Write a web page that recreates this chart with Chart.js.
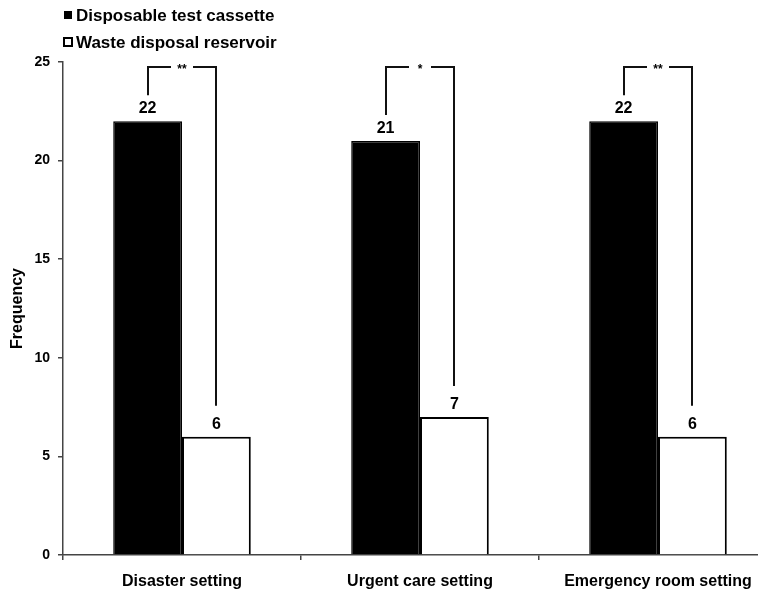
<!DOCTYPE html>
<html>
<head>
<meta charset="utf-8">
<script src="https://cdn.jsdelivr.net/npm/chart.js@4/dist/chart.umd.min.js"></script>
<style>
html,body{margin:0;padding:0;background:#fff;overflow:hidden;}
#wrap{position:relative;width:790px;height:593px;}
</style>
</head>
<body>
<div id="wrap"><canvas id="c" width="790" height="593"></canvas></div>
<script>
const categories = ['Disaster setting', 'Urgent care setting', 'Emergency room setting'];
const cassette = [22, 21, 22];
const reservoir = [6, 7, 6];
const significance = ['**', '*', '**'];
const seriesNames = ['Disposable test cassette', 'Waste disposal reservoir'];
const yTicks = [0, 5, 10, 15, 20, 25];

const FONT = "'Liberation Sans', Arial, sans-serif";

const customDraw = {
  id: 'customDraw',
  afterDatasetsDraw(chart) {
    const ctx = chart.ctx;
    const m0 = chart.getDatasetMeta(0), m1 = chart.getDatasetMeta(1);
    ctx.save();
    // value labels
    ctx.fillStyle = '#000';
    ctx.font = 'bold 16px ' + FONT;
    ctx.textAlign = 'center';
    ctx.textBaseline = 'alphabetic';
    [m0, m1].forEach((m, di) => {
      const vals = di === 0 ? cassette : reservoir;
      m.data.forEach((bar, i) => {
        ctx.fillText(String(vals[i]), bar.x, bar.y - 8);
      });
    });
    // significance brackets
    const topY = chart.chartArea.top + 5;
    ctx.strokeStyle = '#111';
    ctx.lineWidth = 2;
    m0.data.forEach((b0, i) => {
      const b1 = m1.data[i];
      const lx = Math.round(b0.x), rx = Math.round(b1.x);
      const mid = (lx + rx) / 2;
      const gap = 11;
      ctx.beginPath();
      ctx.moveTo(lx, b0.y - 26);
      ctx.lineTo(lx, topY);
      ctx.lineTo(mid - gap, topY);
      ctx.moveTo(mid + gap, topY);
      ctx.lineTo(rx, topY);
      ctx.lineTo(rx, b1.y - 31);
      ctx.stroke();
      ctx.font = 'bold 12px ' + FONT;
      ctx.textBaseline = 'middle';
      ctx.fillText(significance[i], mid, topY + 3);
    });
    // legend
    ctx.textAlign = 'left';
    ctx.textBaseline = 'middle';
    ctx.font = 'bold 17px ' + FONT;
    const rows = [15, 42];
    seriesNames.forEach((name, i) => {
      const y = rows[i];
      if (i === 0) {
        ctx.fillStyle = '#000';
        ctx.fillRect(64, y - 4, 8, 8);
      } else {
        ctx.fillStyle = '#fff';
        ctx.fillRect(64, y - 4, 8, 8);
        ctx.strokeStyle = '#000';
        ctx.lineWidth = 2;
        ctx.strokeRect(64, y - 4, 8, 8);
      }
      ctx.fillStyle = '#000';
      ctx.fillText(name, 76, y + 1);
    });
    ctx.restore();
  }
};

new Chart(document.getElementById('c'), {
  type: 'bar',
  data: {
    labels: categories,
    datasets: [
      { label: seriesNames[0], data: cassette, backgroundColor: '#000', borderColor: '#000', borderWidth: 1.5 },
      { label: seriesNames[1], data: reservoir, backgroundColor: '#fff', borderColor: '#000', borderWidth: 2 }
    ]
  },
  options: {
    responsive: false,
    animation: false,
    devicePixelRatio: 1,
    layout: { padding: { top: 62, right: 13, left: 0, bottom: 0 } },
    datasets: { bar: { categoryPercentage: 0.578, barPercentage: 1.0 } },
    plugins: { legend: { display: false }, tooltip: { enabled: false } },
    scales: {
      x: {
        grid: { display: true, drawOnChartArea: false, offset: true, tickLength: 5, color: '#444', lineWidth: 1.5 },
        border: { display: true, color: '#444', width: 1.5 },
        ticks: { color: '#000', font: { family: FONT, size: 16, weight: 'bold' }, padding: 12, maxRotation: 0 },
        afterFit(s) { s.height = 38; }
      },
      y: {
        min: 0, max: 25,
        afterBuildTicks(s) { s.ticks = yTicks.map(v => ({ value: v })); },
        grid: { display: true, drawOnChartArea: false, tickLength: 5, color: '#444', lineWidth: 1.5 },
        border: { display: true, color: '#444', width: 1.5 },
        ticks: { color: '#000', font: { family: FONT, size: 14, weight: 'bold' }, padding: 8 },
        title: { display: true, text: 'Frequency', color: '#000', font: { family: FONT, size: 16, weight: 'bold' }, padding: { top: 8, bottom: 0 } },
        afterFit(s) { s.width = 63; }
      }
    }
  },
  plugins: [customDraw]
});
</script>
</body>
</html>
